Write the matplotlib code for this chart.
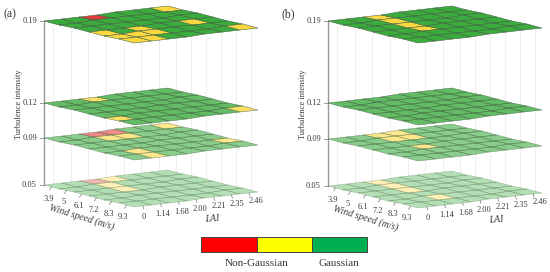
import matplotlib
matplotlib.use("Agg")
import matplotlib.pyplot as plt
from matplotlib.colors import ListedColormap
from matplotlib.patches import Rectangle
from matplotlib.transforms import Affine2D
import numpy as np

plt.rcParams['font.family'] = ['Liberation Serif', 'DejaVu Serif']

WIND = ["3.9", "5", "6.1", "7.2", "8.3", "9.3"]
LAI = ["0", "1.14", "1.68", "2.00", "2.21", "2.35", "2.46"]
LEVELS = ["0.19", "0.12", "0.09", "0.05"]

# 0 gaussian, 1 in between, 2 non gaussian. rows = wind speed, cols = LAI
A_019 = [[0, 0, 2, 0, 0, 0, 1],
         [0, 0, 0, 0, 0, 0, 0],
         [0, 0, 0, 0, 0, 0, 0],
         [1, 0, 1, 0, 0, 1, 0],
         [1, 1, 1, 0, 0, 0, 0],
         [1, 1, 0, 0, 0, 0, 1]]
A_012 = [[0, 0, 1, 0, 0, 0, 0],
         [0, 0, 0, 0, 0, 0, 0],
         [0, 0, 0, 0, 0, 0, 0],
         [0, 0, 0, 0, 0, 0, 0],
         [1, 0, 0, 0, 0, 0, 0],
         [0, 0, 0, 0, 0, 0, 1]]
A_009 = [[0, 0, 2, 2, 0, 0, 1],
         [0, 0, 1, 1, 0, 0, 0],
         [0, 0, 0, 0, 0, 0, 0],
         [0, 0, 0, 0, 0, 0, 0],
         [0, 1, 0, 0, 0, 0, 1],
         [0, 1, 0, 0, 0, 0, 0]]
A_005 = [[0, 0, 2, 1, 0, 0, 0],
         [0, 0, 1, 0, 0, 0, 0],
         [0, 0, 1, 0, 0, 0, 0],
         [0, 0, 0, 0, 0, 0, 0],
         [0, 0, 0, 0, 0, 0, 0],
         [0, 0, 0, 0, 0, 0, 0]]

B_019 = [[0, 0, 1, 0, 0, 0, 0],
         [0, 0, 1, 0, 0, 0, 0],
         [0, 0, 1, 0, 0, 0, 0],
         [0, 0, 1, 0, 0, 0, 0],
         [0, 0, 0, 0, 0, 0, 0],
         [0, 0, 0, 0, 0, 0, 0]]
B_012 = [[0] * 7 for _ in range(6)]
B_009 = [[0, 0, 1, 1, 0, 0, 0],
         [0, 0, 1, 1, 0, 0, 0],
         [0, 0, 0, 0, 0, 0, 0],
         [0, 0, 1, 0, 0, 0, 0],
         [0, 0, 0, 0, 0, 0, 0],
         [0, 0, 0, 0, 0, 0, 0]]
B_005 = [[0, 0, 1, 0, 0, 0, 0],
         [0, 0, 1, 0, 0, 0, 0],
         [0, 0, 1, 0, 0, 0, 0],
         [0, 0, 0, 0, 0, 0, 0],
         [0, 0, 1, 0, 0, 0, 0],
         [0, 0, 0, 0, 0, 0, 0]]

LEGEND_LABELS = ["Non-Gaussian", "Gaussian"]

CELL_CMAP = ListedColormap(["#3cab3e", "#fbd840", "#e03c3c"])
LAYER_ALPHA = [1.0, 0.8, 0.6, 0.38]
TEXT_COLOR = "#3a3a3a"

# plane geometry in figure pixels
STEP_LAI = (124 / 7, -15 / 7)
STEP_WIND = (90 / 6, 22 / 6)


def plane_transform(ax, x0, y0):
    # (lai index, wind index) -> pixels, the panels are oblique projections
    m = np.array([[STEP_LAI[0], STEP_WIND[0], x0],
                  [STEP_LAI[1], STEP_WIND[1], y0],
                  [0, 0, 1]])
    return Affine2D(m) + ax.transData


def draw_panel(ax, x0, tag, tag_x, layers, level_y):
    n_wind, n_lai = np.array(layers[0]).shape
    bottom = level_y[-1]
    top = level_y[0]

    # faint wall lines behind the planes
    back = Affine2D(np.array([[STEP_LAI[0], STEP_WIND[0], x0],
                              [STEP_LAI[1], STEP_WIND[1], 0],
                              [0, 0, 1]]))
    pts = [(i + 0.5, 0) for i in range(n_lai)] + [(n_lai, j + 0.5) for j in range(n_wind)]
    for p in pts:
        px, py = back.transform(p)
        ax.plot([px, px], [top + py, bottom + py], color="#ebebeb", lw=0.6, zorder=1)

    ax.plot([x0, x0], [top, bottom], color="#999999", lw=1.0, zorder=1)

    for k in range(len(layers) - 1, -1, -1):
        ax.pcolormesh(np.arange(n_lai + 1), np.arange(n_wind + 1), np.array(layers[k]),
                      cmap=CELL_CMAP, vmin=0, vmax=2, alpha=LAYER_ALPHA[k],
                      edgecolors="#3a5a3a", linewidth=0.35, antialiased=True,
                      transform=plane_transform(ax, x0, level_y[k]), zorder=2 + 4 - k)
        ax.plot([x0 - 4, x0], [level_y[k], level_y[k]], color="#999999", lw=0.7, zorder=1)
        ax.text(x0 - 7, level_y[k], LEVELS[k], ha="right", va="center",
                fontsize=6, color=TEXT_COLOR)

    # ticks on the lowest plane
    base = plane_transform(ax, x0, bottom) - ax.transData
    for j, lab in enumerate(WIND):
        px, py = base.transform((0, j + 0.5))
        ax.plot([px, px - 2], [py, py + 3], color="#777777", lw=0.5, zorder=1)
        ax.text(px - 3, py + 12, lab, ha="center", va="center", fontsize=6, color=TEXT_COLOR)
    for i, lab in enumerate(LAI):
        px, py = base.transform((i + 0.5, n_wind))
        ax.plot([px, px + 1], [py, py + 3], color="#777777", lw=0.5, zorder=1)
        ax.text(px + 1 + i, py + 11 - 0.5 * i, lab, ha="center", va="center",
                fontsize=6, color=TEXT_COLOR)

    ax.text(x0 + 38, bottom + 32, "Wind speed (m/s)", rotation=-17, ha="center", va="center",
            fontsize=7, style="italic", color=TEXT_COLOR, rotation_mode="anchor")
    ax.text(x0 + 168, bottom + 34, "LAI", rotation=5, ha="center", va="center",
            fontsize=7, style="italic", color=TEXT_COLOR)
    ax.text(x0 - 25, (top + bottom) / 2 + 1, "Turbulence intensity", rotation=90,
            ha="center", va="center", fontsize=6, color=TEXT_COLOR)
    ax.text(tag_x, 14, tag, ha="left", va="center", fontsize=8.5, color=TEXT_COLOR)


fig = plt.figure(figsize=(5.5, 2.72), dpi=100)
ax = fig.add_axes([0, 0, 1, 1])
ax.set_xlim(0, 550)
ax.set_ylim(272, 0)
ax.axis("off")

draw_panel(ax, 44, "(a)", 3, [A_019, A_012, A_009, A_005], [21, 103, 138, 185])
draw_panel(ax, 328, "(b)", 281, [B_019, B_012, B_009, B_005], [21, 103, 139, 186])

# colour key
for x, w, c in [(201, 56, "#ff0000"), (257, 55, "#ffff00"), (312, 55, "#00b050")]:
    ax.add_patch(Rectangle((x, 237), w, 15, facecolor=c, edgecolor="#444444", lw=0.7))
ax.text(257, 263, LEGEND_LABELS[0], ha="center", va="center", fontsize=8, color=TEXT_COLOR)
ax.text(339, 263, LEGEND_LABELS[1], ha="center", va="center", fontsize=8, color=TEXT_COLOR)

fig.savefig("out.png", dpi=100)
